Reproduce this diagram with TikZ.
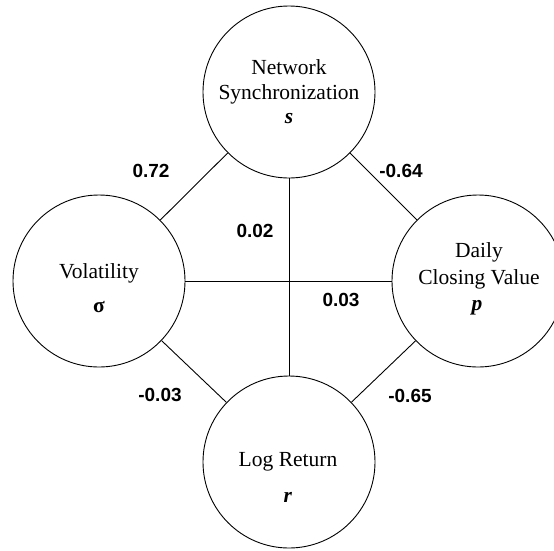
\documentclass[tikz,border=0pt]{standalone}
\usepackage{fontspec}
\setmainfont{Liberation Serif}
\newfontfamily\numfont{Liberation Sans}
\begin{document}
\begin{tikzpicture}[x=1pt,y=-1pt,
  var/.style={draw, circle, minimum size=172pt, inner sep=0pt, line width=0.9pt},
  lbl/.style={font=\fontsize{21.5}{25}\selectfont, inner sep=0pt, anchor=center},
  coef/.style={font=\numfont\bfseries\fontsize{19}{22}\selectfont, inner sep=0pt, anchor=center},
  link/.style={line width=0.9pt}]
\useasboundingbox (0,0) rectangle (554,550);
\node[var] (s) at (289,92) {};
\node[var] (v) at (99,281) {};
\node[var] (p) at (478,281) {};
\node[var] (r) at (289,462) {};
\draw[link] (s) -- (v);
\draw[link] (s) -- (p);
\draw[link] (v) -- (r);
\draw[link] (p) -- (r);
\draw[link] (v) -- (p);
\draw[link] (s) -- (r);
% texts
\node[lbl] (s1) at (289,67) {Network};
\node[lbl] (s2) at (289,94) {Synchronization};
\node[lbl] (s3) at (289,119) {\textbf{\textit{s}}};
\node[lbl] (v1) at (99,273) {Volatility};
\node[lbl] (v2) at (99,307) {\textbf{σ}};
\node[lbl] (p1) at (479,252) {Daily};
\node[lbl] (p2) at (479,279) {Closing Value};
\node[lbl] (p3) at (477,308) {\textbf{\textit{p}}};
\node[lbl] (r1) at (288,462) {Log Return};
\node[lbl] (r2) at (288,497) {\textbf{\textit{r}}};
% coefficients
\node[coef] (c1) at (151,171) {0.72};
\node[coef] (c2) at (401,171) {-0.64};
\node[coef] (c3) at (255,231) {0.02};
\node[coef] (c4) at (341,300) {0.03};
\node[coef] (c5) at (160,395) {-0.03};
\node[coef] (c6) at (410,396) {-0.65};
\end{tikzpicture}
\end{document}
